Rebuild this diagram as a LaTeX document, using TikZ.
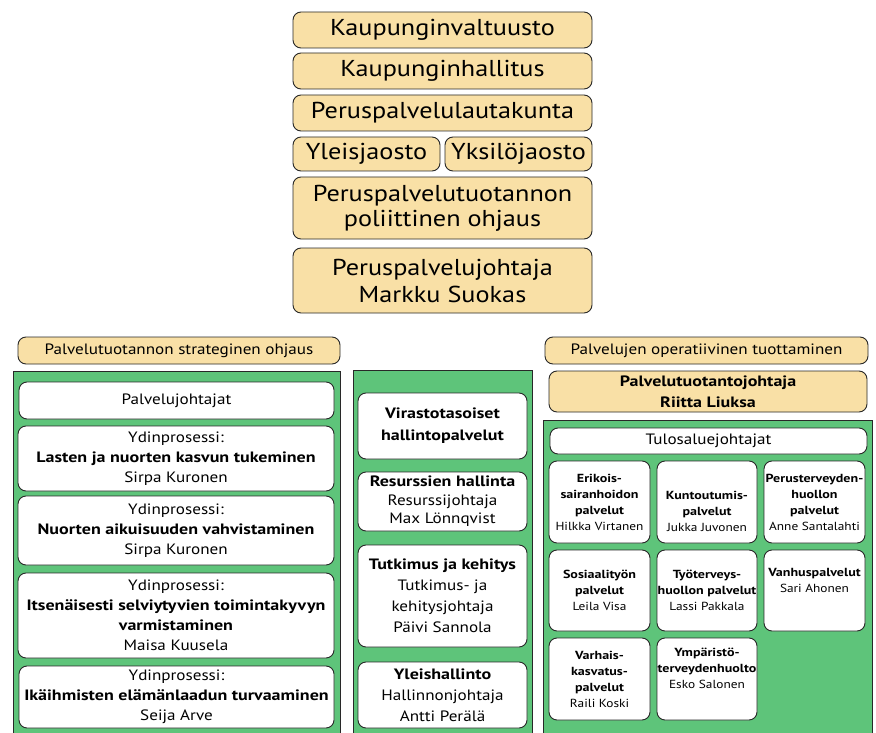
\documentclass[tikz,border=0pt]{standalone}
\usepackage{fontspec}
\setmainfont{PT Sans}[FakeStretch=1.14, BoldFeatures={FakeStretch=1.2}]
\definecolor{tanc}{RGB}{249,224,166}
\definecolor{grnc}{RGB}{94,196,122}
\definecolor{edge}{RGB}{40,40,40}
\begin{document}
\begin{tikzpicture}[x=1pt,y=-1pt,
  tanbox/.style={draw=edge, fill=tanc, rounded corners=8pt, line width=0.9pt, inner sep=0pt, align=center},
  whitebox/.style={draw=edge, fill=white, rounded corners=8pt, line width=0.9pt, inner sep=0pt, align=center},
  greenbox/.style={draw=edge, fill=grnc, line width=1pt, inner sep=0pt},
  big/.style={font=\fontsize{23}{25}\selectfont},
  mid/.style={font=\fontsize{15}{20}\selectfont},
  small/.style={font=\fontsize{11.7}{16}\selectfont},
  sz/.style 2 args={minimum width=#1pt, minimum height=#2pt},
]
\useasboundingbox (0,0) rectangle (876,733);

% top column
\node[tanbox,big,sz={299}{36}] (kv) at (442.5,30) {Kaupunginvaltuusto};
\node[tanbox,big,sz={299}{36}] (kh) at (442.5,71) {Kaupunginhallitus};
\node[tanbox,big,sz={299}{36}] (pl) at (442.5,113) {Peruspalvelulautakunta};
\node[tanbox,big,sz={147}{34}] (yl) at (366.5,154) {Yleisjaosto};
\node[tanbox,big,sz={147}{34}] (yk) at (518.5,154) {Yksilöjaosto};
\node[tanbox,big,sz={299}{62}] (pp) at (442.5,208) {Peruspalvelutuotannon\\poliittinen ohjaus};
\node[tanbox,font=\fontsize{23}{27}\selectfont,sz={299}{65}] (pj) at (442.5,280.5) {Peruspalvelujohtaja\\Markku Suokas};

% left column
\node[tanbox,mid,sz={322}{27}] (st) at (179,350.5) {Palvelutuotannon strateginen ohjaus};
\node[greenbox,sz={327}{374}] (gl) at (176.5,558) {};
\node[whitebox,mid,sz={315}{37}] (pvj) at (176.5,400.5) {Palvelujohtajat};
\node[whitebox,mid,sz={316}{65}] (y1) at (176,458.5) {Ydinprosessi:\\\textbf{Lasten ja nuorten kasvun tukeminen}\\Sirpa Kuronen};
\node[whitebox,mid,sz={316}{69}] (y2) at (176,530.5) {Ydinprosessi:\\\textbf{Nuorten aikuisuuden vahvistaminen}\\Sirpa Kuronen};
\node[whitebox,mid,sz={316}{85}] (y3) at (176,615.5) {Ydinprosessi:\\\textbf{Itsenäisesti selviytyvien toimintakyvyn}\\\textbf{varmistaminen}\\Maisa Kuusela};
\node[whitebox,mid,sz={315}{62}] (y4) at (176.5,697) {Ydinprosessi:\\\textbf{Ikäihmisten elämänlaadun turvaaminen}\\Seija Arve};

% middle column
\node[greenbox,sz={179}{375}] (gm) at (442.5,557.5) {};
\node[whitebox,sz={169}{66},font=\fontsize{15}{22}\selectfont] (vh) at (442.5,426) {\textbf{Virastotasoiset}\\\textbf{hallintopalvelut}};
\node[whitebox,sz={169}{59},font=\fontsize{15}{18.5}\selectfont] (rh) at (442.5,501.5) {\textbf{Resurssien hallinta}\\Resurssijohtaja\\Max Lönnqvist};
\node[whitebox,sz={169}{102},font=\fontsize{15}{21}\selectfont] (tk) at (442.5,596) {\textbf{Tutkimus ja kehitys}\\Tutkimus- ja\\kehitysjohtaja\\Päivi Sannola};
\node[whitebox,sz={169}{66},font=\fontsize{15}{21}\selectfont] (yh) at (442.5,695) {\textbf{Yleishallinto}\\Hallinnonjohtaja\\Antti Perälä};

% right column
\node[tanbox,mid,sz={323}{27}] (op) at (706.5,350.5) {Palvelujen operatiivinen tuottaminen};
\node[tanbox,font=\fontsize{15}{21}\selectfont,sz={318}{41}] (ptj) at (708,391.5) {\textbf{Palvelutuotantojohtaja}\\\textbf{Riitta Liuksa}};
\node[greenbox,sz={329}{325}] (gr) at (707.5,582.5) {};
\node[whitebox,mid,sz={317}{26}] (tj) at (708.5,441) {Tulosaluejohtajat};

\node[whitebox,small,sz={101}{82}] (g11) at (599.5,502) {\textbf{Erikois-}\\\textbf{sairanhoidon}\\\textbf{palvelut}\\Hilkka Virtanen};
\node[whitebox,small,sz={100}{82}] (g12) at (707,502) {\strut\\\textbf{Kuntoutumis-}\\\textbf{palvelut}\\Jukka Juvonen};
\node[whitebox,small,sz={101}{82}] (g13) at (814.5,502) {\textbf{Perusterveyden-}\\\textbf{huollon}\\\textbf{palvelut}\\Anne Santalahti};
\node[whitebox,small,sz={101}{81}] (g21) at (599.5,590.5) {\textbf{Sosiaalityön}\\\textbf{palvelut}\\Leila Visa};
\node[whitebox,small,sz={100}{81}] (g22) at (707,590.5) {\textbf{Työterveys-}\\\textbf{huollon palvelut}\\Lassi Pakkala};
\node[whitebox,small,sz={101}{81}] (g23) at (814.5,590.5) {\textbf{Vanhuspalvelut}\\Sari Ahonen\\\strut};
\node[whitebox,small,sz={101}{82}] (g31) at (599.5,679) {\textbf{Varhais-}\\\textbf{kasvatus-}\\\textbf{palvelut}\\Raili Koski};
\node[whitebox,small,sz={100}{82}] (g32) at (707,679) {\textbf{Ympäristö-}\\\textbf{terveydenhuolto}\\Esko Salonen\\\strut};
\end{tikzpicture}
\end{document}
